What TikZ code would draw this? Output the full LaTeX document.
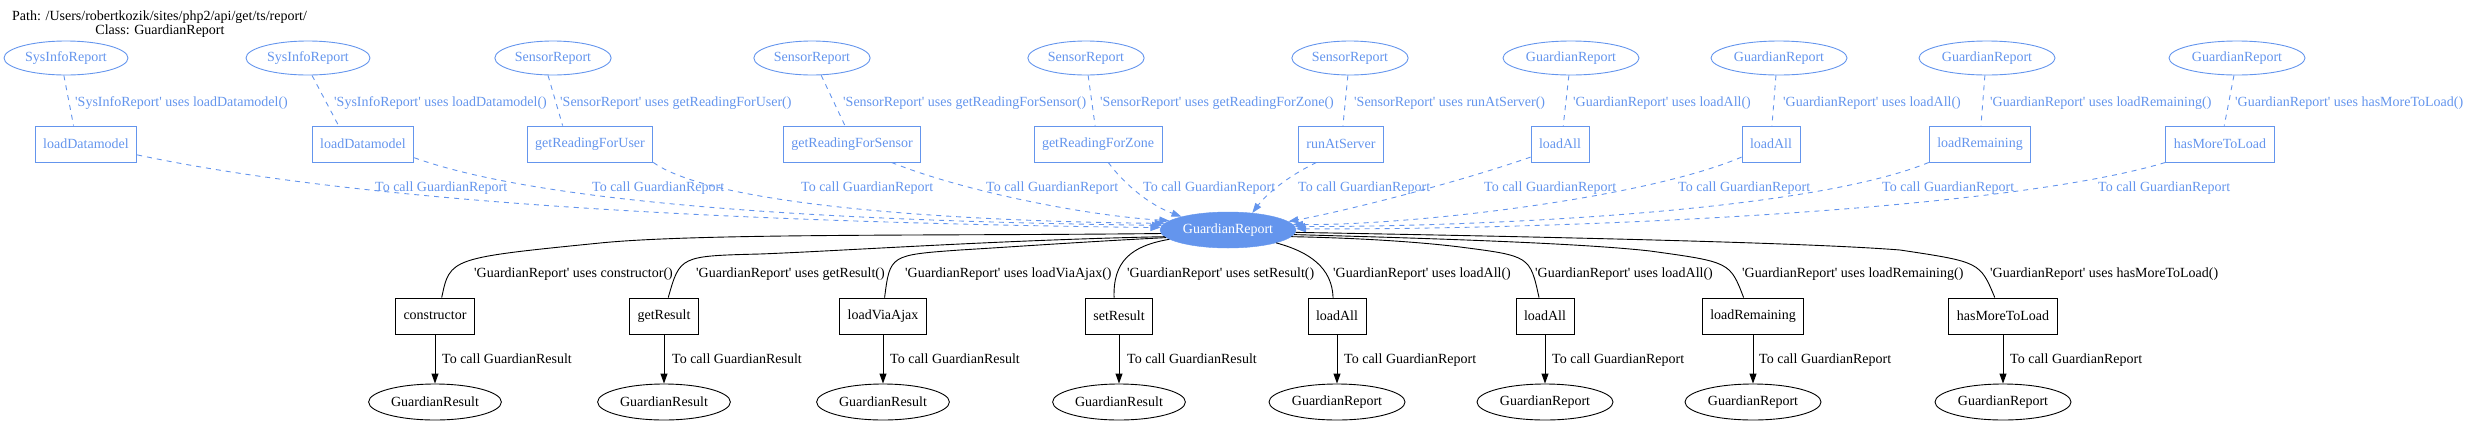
\documentclass[tikz,border=0pt]{standalone}
\usepackage{fontspec}
\setmainfont{Liberation Serif}
\usetikzlibrary{arrows.meta,shapes.geometric}
\definecolor{cfb}{RGB}{100,149,237}
\newcommand{\sq}{\textquotesingle}
\begin{document}
\begin{tikzpicture}[x=1pt,y=-1pt,
  every node/.style={font=\fontsize{14pt}{16pt}\selectfont},
  topell/.style={ellipse, draw=cfb, text=cfb, line width=0.9pt, inner xsep=3pt, inner ysep=0pt, minimum height=34pt},
  topbox/.style={rectangle, draw=cfb, text=cfb, line width=0.9pt, inner xsep=8pt, inner ysep=0pt, minimum height=36pt},
  botell/.style={ellipse, draw=black, line width=0.9pt, inner xsep=3pt, inner ysep=0pt, minimum height=36pt},
  botbox/.style={rectangle, draw=black, line width=0.9pt, inner xsep=8pt, inner ysep=0pt, minimum height=36pt},
  centre/.style={ellipse, fill=cfb, draw=cfb, text=white, inner xsep=3pt, inner ysep=0pt, minimum height=36pt},
  blab/.style={anchor=base west, inner sep=0pt, text=cfb},
  klab/.style={anchor=base west, inner sep=0pt, text=black},
  bdash/.style={draw=cfb, line width=0.9pt, dash pattern=on 5pt off 5pt},
  barrow/.style={bdash, -{Triangle[length=10pt,width=7pt]}},
  kline/.style={draw=black, line width=0.9pt},
  karrow/.style={kline, -{Triangle[length=10pt,width=7pt]}},
]
\useasboundingbox (0,0) rectangle (2469,424);

% title
\node[anchor=base west, inner sep=0pt] (t1) at (12,20) {Path: /Users/robertkozik/sites/php2/api/get/ts/report/};
\node[anchor=base, inner sep=0pt] (t2) at (160,34) {Class: GuardianReport};

% top ellipses
\node[topell] (e1) at (66,58) {SysInfoReport};
\node[topell] (e2) at (308,58) {SysInfoReport};
\node[topell] (e3) at (553,58) {SensorReport};
\node[topell] (e4) at (812,58) {SensorReport};
\node[topell] (e5) at (1086,58) {SensorReport};
\node[topell] (e6) at (1350,58) {SensorReport};
\node[topell] (e7) at (1571,58) {GuardianReport};
\node[topell] (e8) at (1779,58) {GuardianReport};
\node[topell] (e9) at (1987,58) {GuardianReport};
\node[topell] (e10) at (2237,58) {GuardianReport};

% top boxes
\node[topbox] (b1) at (86,144) {loadDatamodel};
\node[topbox] (b2) at (363,144) {loadDatamodel};
\node[topbox] (b3) at (590,144) {getReadingForUser};
\node[topbox] (b4) at (852,144) {getReadingForSensor};
\node[topbox] (b5) at (1098,144) {getReadingForZone};
\node[topbox] (b6) at (1341,144) {runAtServer};
\node[topbox] (b7) at (1560,144) {loadAll};
\node[topbox] (b8) at (1771,144) {loadAll};
\node[topbox] (b9) at (1980,144) {loadRemaining};
\node[topbox] (b10) at (2220,144) {hasMoreToLoad};

% central
\node[centre] (c) at (1228,230) {GuardianReport};

% bottom boxes
\node[botbox] (d1) at (435,316) {constructor};
\node[botbox] (d2) at (664,316) {getResult};
\node[botbox] (d3) at (883,316) {loadViaAjax};
\node[botbox] (d4) at (1119,316) {setResult};
\node[botbox] (d5) at (1337,316) {loadAll};
\node[botbox] (d6) at (1545,316) {loadAll};
\node[botbox] (d7) at (1753,316) {loadRemaining};
\node[botbox] (d8) at (2003,316) {hasMoreToLoad};

% bottom ellipses
\node[botell] (r1) at (435,402) {GuardianResult};
\node[botell] (r2) at (664,402) {GuardianResult};
\node[botell] (r3) at (883,402) {GuardianResult};
\node[botell] (r4) at (1119,402) {GuardianResult};
\node[botell] (r5) at (1337,402) {GuardianReport};
\node[botell] (r6) at (1545,402) {GuardianReport};
\node[botell] (r7) at (1753,402) {GuardianReport};
\node[botell] (r8) at (2003,402) {GuardianReport};

% top ellipse -> box
\draw[bdash] (e1.-97) -- (b1.124);
\draw[bdash] (e2.-77) -- (b2.143);
\draw[bdash] (e3.-106) -- (b3.146);
\draw[bdash] (e4.-62) -- (b4.111);
\draw[bdash] (e5.-83) -- (b5.99);
\draw[bdash] (e6.-97) -- (b6.84);
\draw[bdash] (e7.-97) -- (b7.80);
\draw[bdash] (e8.-100) -- (b8.87);
\draw[bdash] (e9.-97) -- (b9.87);
\draw[bdash] (e10.-100) -- (b10.77);

\node[blab] (l1) at (75,106) {\sq SysInfoReport\sq{} uses loadDatamodel()};
\node[blab] (l2) at (334,106) {\sq SysInfoReport\sq{} uses loadDatamodel()};
\node[blab] (l3) at (560,106) {\sq SensorReport\sq{} uses getReadingForUser()};
\node[blab] (l4) at (843,106) {\sq SensorReport\sq{} uses getReadingForSensor()};
\node[blab] (l5) at (1100,106) {\sq SensorReport\sq{} uses getReadingForZone()};
\node[blab] (l6) at (1354,106) {\sq SensorReport\sq{} uses runAtServer()};
\node[blab] (l7) at (1573,106) {\sq GuardianReport\sq{} uses loadAll()};
\node[blab] (l8) at (1783,106) {\sq GuardianReport\sq{} uses loadAll()};
\node[blab] (l9) at (1990,106) {\sq GuardianReport\sq{} uses loadRemaining()};
\node[blab] (l10) at (2235,106) {\sq GuardianReport\sq{} uses hasMoreToLoad()};

% top box -> central
\draw[barrow] (b1.-12) .. controls (350,200) and (700,222) .. (c.178);
\draw[barrow] (b2.-15) .. controls (560,210) and (900,222) .. (c.176);
\draw[barrow] (b3.south east) .. controls (720,210) and (1000,222) .. (c.174);
\draw[barrow] (b4.-25) .. controls (960,190) and (1080,215) .. (c.171);
\draw[barrow] (b5.-61) .. controls (1125,185) and (1150,205) .. (c.164);
\draw[barrow] (b6.-143) .. controls (1280,180) and (1262,200) .. (c.35);
\draw[barrow] (b7.-156) .. controls (1450,185) and (1340,212) .. (c.8);
\draw[barrow] (b8.-156) .. controls (1640,200) and (1400,226) .. (c.5);
\draw[barrow] (b9.south west) .. controls (1800,215) and (1450,227) .. (c.3);
\draw[barrow] (b10.south west) .. controls (2000,212) and (1550,230) .. (c.1);

\node[blab] (k1) at (375,191.5) {To call GuardianReport};
\node[blab] (k2) at (592,191.5) {To call GuardianReport};
\node[blab] (k3) at (801,191.5) {To call GuardianReport};
\node[blab] (k4) at (986,191.5) {To call GuardianReport};
\node[blab] (k5) at (1143,191.5) {To call GuardianReport};
\node[blab] (k6) at (1298,191.5) {To call GuardianReport};
\node[blab] (k7) at (1484,191.5) {To call GuardianReport};
\node[blab] (k8) at (1678,191.5) {To call GuardianReport};
\node[blab] (k9) at (1882,191.5) {To call GuardianReport};
\node[blab] (k10) at (2098,191.5) {To call GuardianReport};

% central -> bottom boxes
\draw[kline] (c.183) .. controls (950,236) and (700,233) .. (600,243) .. controls (450,258) .. (d1.70);
\draw[kline] (c.186) .. controls (1000,240) and (840,251) .. (760,254) .. controls (680,256) .. (d2.77);
\draw[kline] (c.187) .. controls (1080,242) and (1010,247) .. (960,250) .. controls (890,255) .. (d3.85);
\draw[kline] (c.189) .. controls (1130,246) and (1113,262) .. (d4.105);
\draw[kline] (c.-15) .. controls (1310,252) and (1332,268) .. (d5.102);
\draw[kline] (c.-6) .. controls (1360,238) and (1420,242) .. (1460,247) .. controls (1530,256) .. (d6.108);
\draw[kline] (c.-4) .. controls (1420,238) and (1580,243) .. (1650,251) .. controls (1730,262) .. (d7.117);
\draw[kline] (c.-2) .. controls (1500,236) and (1800,242) .. (1900,250) .. controls (1980,262) .. (d8.114);

\node[klab] (m1) at (474,277) {\sq GuardianReport\sq{} uses constructor()};
\node[klab] (m2) at (696,277) {\sq GuardianReport\sq{} uses getResult()};
\node[klab] (m3) at (905,277) {\sq GuardianReport\sq{} uses loadViaAjax()};
\node[klab] (m4) at (1127,277) {\sq GuardianReport\sq{} uses setResult()};
\node[klab] (m5) at (1333,277) {\sq GuardianReport\sq{} uses loadAll()};
\node[klab] (m6) at (1535,277) {\sq GuardianReport\sq{} uses loadAll()};
\node[klab] (m7) at (1742,277) {\sq GuardianReport\sq{} uses loadRemaining()};
\node[klab] (m8) at (1990,277) {\sq GuardianReport\sq{} uses hasMoreToLoad()};

% bottom boxes -> ellipses
\draw[karrow] (d1) -- (r1);
\draw[karrow] (d2) -- (r2);
\draw[karrow] (d3) -- (r3);
\draw[karrow] (d4) -- (r4);
\draw[karrow] (d5) -- (r5);
\draw[karrow] (d6) -- (r6);
\draw[karrow] (d7) -- (r7);
\draw[karrow] (d8) -- (r8);

\node[klab] (n1) at (442,363.5) {To call GuardianResult};
\node[klab] (n2) at (672,363.5) {To call GuardianResult};
\node[klab] (n3) at (890,363.5) {To call GuardianResult};
\node[klab] (n4) at (1127,363.5) {To call GuardianResult};
\node[klab] (n5) at (1344,363.5) {To call GuardianReport};
\node[klab] (n6) at (1552,363.5) {To call GuardianReport};
\node[klab] (n7) at (1759,363.5) {To call GuardianReport};
\node[klab] (n8) at (2010,363.5) {To call GuardianReport};
\end{tikzpicture}
\end{document}
